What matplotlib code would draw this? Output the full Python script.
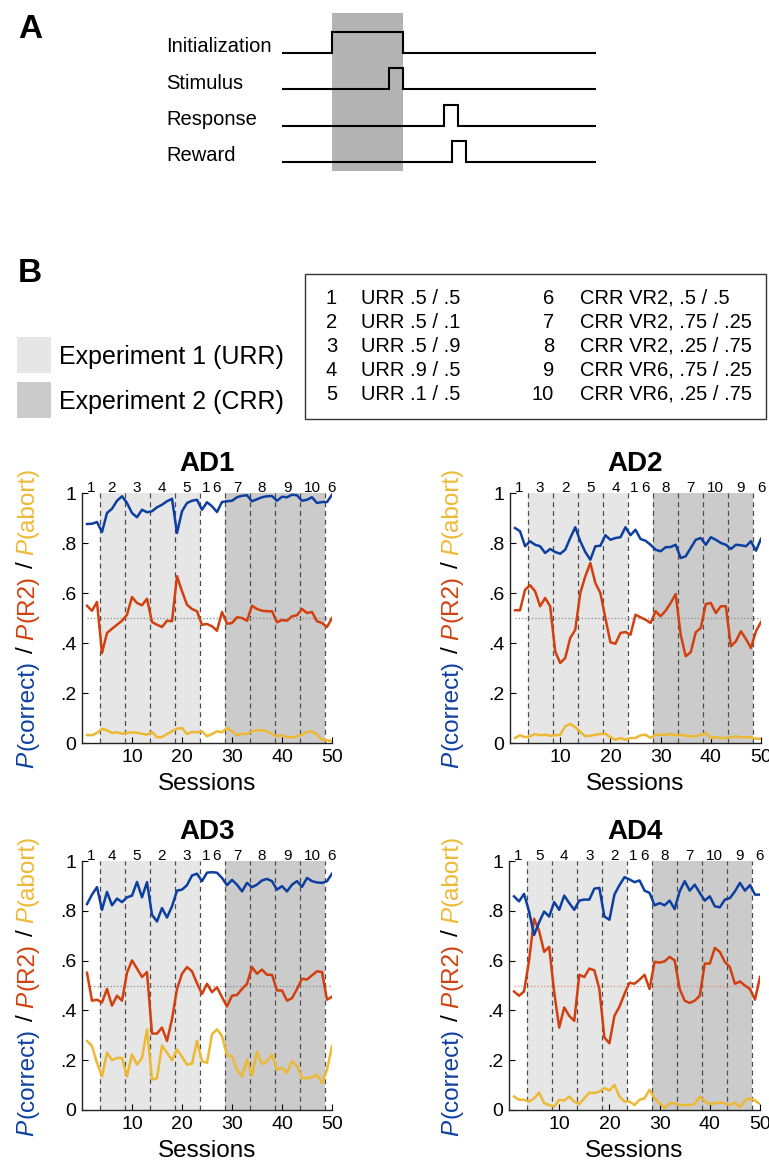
"""
A: trial timing schematic
B: P(correct) / P(R2) / P(abort) across 50 sessions for AD1-AD4
"""
import numpy as np
import matplotlib.pyplot as plt
from matplotlib.patches import Rectangle
from matplotlib.transforms import IdentityTransform

plt.rcParams['font.family'] = ['Liberation Sans', 'DejaVu Sans']

# ==========================================
# 參數
# ==========================================
W, H = 769, 1165
BLUE, RED, YELLOW = '#0d3fa0', '#d2400f', '#edb935'
LIGHT, DARK = '#e6e6e6', '#cbcbcb'

# timing diagram, arbitrary time units
T_END     = 100
EVENTS    = ['Initialization', 'Stimulus', 'Response', 'Reward']
EVENT_ON  = [16, 34, 51.5, 54]
EVENT_OFF = [38.5, 38.5, 56, 58.5]

COND_ID = ['1', '2', '3', '4', '5', '6', '7', '8', '9', '10']
COND_NAME = ['URR .5 / .5', 'URR .5 / .1', 'URR .5 / .9', 'URR .9 / .5', 'URR .1 / .5',
             'CRR VR2, .5 / .5', 'CRR VR2, .75 / .25', 'CRR VR2, .25 / .75',
             'CRR VR6, .75 / .25', 'CRR VR6, .25 / .75']

SESSIONS    = np.arange(1, 51)
BLOCK_EDGES = [3.5, 8.5, 13.5, 18.5, 23.5, 28.5, 33.5, 38.5, 43.5, 48.5]
EXP1_SPAN   = (3.5, 23.5)
EXP2_SPAN   = (28.5, 48.5)
BLOCK_X     = [1.8, 6, 11, 16, 21, 24.8, 26.9, 31, 36, 41, 46, 50]

ORDER_AD1 = ['1', '2', '3', '4', '5', '1', '6', '7', '8', '9', '10', '6']
ORDER_AD2 = ['1', '3', '2', '5', '4', '1', '6', '8', '7', '10', '9', '6']
ORDER_AD3 = ['1', '4', '5', '2', '3', '1', '6', '7', '8', '9', '10', '6']
ORDER_AD4 = ['1', '5', '4', '3', '2', '1', '6', '8', '7', '10', '9', '6']

AD1_CORRECT = [0.876, 0.877, 0.884, 0.844, 0.92, 0.937, 0.969, 0.987, 0.96, 0.92,
               0.903, 0.933, 0.923, 0.927, 0.943, 0.953, 0.967, 0.977, 0.84, 0.927,
               0.96, 0.969, 0.973, 0.933, 0.963, 0.947, 0.924, 0.964, 0.967, 0.969,
               0.983, 0.989, 0.991, 0.967, 0.975, 0.983, 0.987, 0.988, 0.969, 0.985,
               0.983, 0.993, 0.991, 0.969, 0.973, 0.983, 0.96, 0.964, 0.964, 0.993]
AD1_R2 = [0.549, 0.529, 0.564, 0.36, 0.44, 0.457, 0.473, 0.489, 0.513, 0.584,
          0.56, 0.551, 0.577, 0.484, 0.473, 0.464, 0.489, 0.487, 0.667, 0.607,
          0.553, 0.536, 0.527, 0.473, 0.476, 0.467, 0.449, 0.524, 0.477, 0.48,
          0.503, 0.5, 0.489, 0.549, 0.536, 0.529, 0.527, 0.527, 0.483, 0.492,
          0.489, 0.507, 0.511, 0.536, 0.52, 0.524, 0.487, 0.48, 0.464, 0.5]
AD1_ABORT = [0.032, 0.031, 0.04, 0.057, 0.051, 0.04, 0.043, 0.037, 0.04, 0.043,
             0.041, 0.037, 0.033, 0.044, 0.023, 0.024, 0.036, 0.047, 0.057, 0.06,
             0.036, 0.044, 0.043, 0.047, 0.027, 0.036, 0.047, 0.043, 0.06, 0.047,
             0.031, 0.037, 0.036, 0.047, 0.051, 0.051, 0.047, 0.036, 0.027, 0.031,
             0.023, 0.023, 0.027, 0.033, 0.044, 0.047, 0.033, 0.013, 0.011, 0.007]

AD2_CORRECT = [0.86, 0.847, 0.787, 0.807, 0.793, 0.787, 0.76, 0.776, 0.764, 0.757,
               0.773, 0.82, 0.863, 0.807, 0.764, 0.733, 0.787, 0.789, 0.831, 0.813,
               0.82, 0.823, 0.863, 0.831, 0.853, 0.816, 0.809, 0.793, 0.773, 0.767,
               0.783, 0.784, 0.793, 0.74, 0.747, 0.78, 0.813, 0.82, 0.793, 0.823,
               0.813, 0.8, 0.793, 0.776, 0.793, 0.791, 0.787, 0.807, 0.769, 0.817]
AD2_R2 = [0.531, 0.531, 0.613, 0.631, 0.607, 0.547, 0.58, 0.547, 0.367, 0.32,
          0.34, 0.42, 0.453, 0.6, 0.667, 0.72, 0.64, 0.6, 0.5, 0.403,
          0.397, 0.44, 0.444, 0.433, 0.513, 0.503, 0.493, 0.48, 0.527, 0.507,
          0.529, 0.56, 0.596, 0.433, 0.347, 0.363, 0.443, 0.46, 0.556, 0.56,
          0.52, 0.547, 0.547, 0.387, 0.407, 0.447, 0.416, 0.38, 0.447, 0.484]
AD2_ABORT = [0.02, 0.031, 0.023, 0.027, 0.036, 0.031, 0.033, 0.029, 0.031, 0.033,
             0.067, 0.076, 0.063, 0.044, 0.027, 0.029, 0.033, 0.036, 0.037, 0.023,
             0.013, 0.02, 0.013, 0.02, 0.02, 0.031, 0.033, 0.02, 0.033, 0.033,
             0.033, 0.036, 0.031, 0.033, 0.029, 0.027, 0.027, 0.033, 0.04, 0.02,
             0.023, 0.02, 0.02, 0.023, 0.027, 0.023, 0.023, 0.023, 0.017, 0.017]

AD3_CORRECT = [0.827, 0.865, 0.895, 0.804, 0.876, 0.822, 0.849, 0.835, 0.854, 0.861,
               0.916, 0.854, 0.915, 0.784, 0.757, 0.811, 0.773, 0.818, 0.881, 0.885,
               0.903, 0.942, 0.949, 0.919, 0.953, 0.955, 0.953, 0.932, 0.903, 0.924,
               0.905, 0.878, 0.912, 0.895, 0.905, 0.922, 0.928, 0.919, 0.885, 0.899,
               0.878, 0.905, 0.919, 0.896, 0.932, 0.919, 0.914, 0.912, 0.919, 0.949]
AD3_R2 = [0.551, 0.439, 0.443, 0.432, 0.486, 0.419, 0.459, 0.439, 0.551, 0.601,
          0.568, 0.534, 0.554, 0.307, 0.307, 0.331, 0.277, 0.365, 0.486, 0.547,
          0.574, 0.557, 0.509, 0.466, 0.507, 0.473, 0.493, 0.453, 0.416, 0.459,
          0.462, 0.486, 0.507, 0.574, 0.547, 0.564, 0.543, 0.543, 0.48, 0.48,
          0.439, 0.449, 0.486, 0.527, 0.524, 0.541, 0.557, 0.554, 0.443, 0.455]
AD3_ABORT = [0.277, 0.257, 0.189, 0.135, 0.23, 0.2, 0.209, 0.209, 0.135, 0.223,
             0.182, 0.209, 0.324, 0.122, 0.128, 0.259, 0.23, 0.2, 0.243, 0.214,
             0.182, 0.186, 0.277, 0.196, 0.189, 0.304, 0.324, 0.297, 0.219, 0.216,
             0.162, 0.135, 0.203, 0.138, 0.234, 0.185, 0.196, 0.223, 0.162, 0.169,
             0.149, 0.196, 0.176, 0.128, 0.128, 0.131, 0.142, 0.108, 0.162, 0.257]

AD4_CORRECT = [0.858, 0.838, 0.868, 0.797, 0.703, 0.754, 0.797, 0.777, 0.835, 0.804,
               0.861, 0.831, 0.804, 0.841, 0.845, 0.845, 0.889, 0.892, 0.777, 0.764,
               0.865, 0.903, 0.935, 0.926, 0.915, 0.922, 0.881, 0.872, 0.822, 0.831,
               0.822, 0.841, 0.807, 0.878, 0.919, 0.881, 0.905, 0.872, 0.841, 0.858,
               0.818, 0.814, 0.845, 0.851, 0.878, 0.912, 0.881, 0.903, 0.865, 0.865]
AD4_R2 = [0.476, 0.459, 0.476, 0.601, 0.768, 0.719, 0.635, 0.655, 0.473, 0.331,
          0.412, 0.378, 0.358, 0.543, 0.534, 0.568, 0.561, 0.486, 0.291, 0.268,
          0.378, 0.415, 0.466, 0.511, 0.507, 0.523, 0.543, 0.486, 0.595, 0.592,
          0.597, 0.615, 0.601, 0.486, 0.439, 0.43, 0.439, 0.459, 0.588, 0.588,
          0.651, 0.635, 0.595, 0.574, 0.507, 0.516, 0.5, 0.486, 0.443, 0.534]
AD4_ABORT = [0.054, 0.041, 0.041, 0.034, 0.047, 0.07, 0.027, 0.02, 0.014, 0.041,
             0.038, 0.054, 0.034, 0.024, 0.047, 0.07, 0.068, 0.074, 0.088, 0.078,
             0.101, 0.054, 0.034, 0.034, 0.02, 0.041, 0.047, 0.081, 0.047, 0.027,
             0.009, 0.027, 0.027, 0.02, 0.02, 0.02, 0.024, 0.054, 0.034, 0.024,
             0.027, 0.03, 0.027, 0.02, 0.03, 0.011, 0.038, 0.047, 0.038, 0.024]

# multi-colour y label pieces: (text, colour, style, gap after in px)
YLABEL_PARTS = [('P', BLUE, 'italic', 1), ('(correct)', BLUE, 'normal', 7),
                ('/', 'black', 'normal', 7), ('P', RED, 'italic', 1),
                ('(R2)', RED, 'normal', 7), ('/', 'black', 'normal', 7),
                ('P', YELLOW, 'italic', 1), ('(abort)', YELLOW, 'normal', 0)]


# ==========================================
# 工具函數
# ==========================================
def px_axes(fig, left, top, right, bottom, **kw):
    """axes from pixel box (origin top-left)"""
    return fig.add_axes([left / W, 1 - bottom / H, (right - left) / W, (bottom - top) / H], **kw)


def colored_ylabel(fig, x_base, y_center, size=17.5):
    rend = fig.canvas.get_renderer()
    texts, lens = [], []
    for s, col, sty, _ in YLABEL_PARTS:
        t = fig.text(0, 0, s, color=col, style=sty, fontsize=size, rotation=90,
                     rotation_mode='anchor', ha='left', va='baseline',
                     transform=IdentityTransform())
        texts.append(t)
        lens.append(t.get_window_extent(rend).height)
    gaps = [p[3] for p in YLABEL_PARTS]
    total = sum(lens) + sum(gaps[:-1])
    y = (H - y_center) - total / 2
    for t, ln, g in zip(texts, lens, gaps):
        t.set_position((x_base, y))
        y += ln + g


# ==========================================
# 繪圖
# ==========================================
def plot_task(fig):
    unit = 36.3                      # px between rows
    ax = px_axes(fig, 282, 5, 596, 185)
    ax.set_xlim(0, T_END)
    ax.set_ylim((185 - 53) / unit, (5 - 53) / unit)
    ax.axis('off')
    pulse = 21 / unit
    ax.add_patch(Rectangle((EVENT_ON[0], (13 - 53) / unit), EVENT_OFF[0] - EVENT_ON[0],
                           (171 - 13) / unit, color='#b3b3b3', lw=0, zorder=0))
    for i, (name, on, off) in enumerate(zip(EVENTS, EVENT_ON, EVENT_OFF)):
        ax.plot([0, on, on, off, off, T_END], [i, i, i - pulse, i - pulse, i, i],
                color='black', lw=1.5, solid_joinstyle='miter', zorder=2)
        ax.text((166 - 282) / 3.14, i - 0.17, name, ha='left', va='center',
                fontsize=14.5, clip_on=False)


def plot_legend(fig):
    ov = fig.add_axes([0, 0, 1, 1], zorder=-1)
    ov.set_xlim(0, W); ov.set_ylim(H, 0); ov.axis('off')

    ov.text(30, 30, 'A', fontsize=24, fontweight='bold', ha='center', va='center')
    ov.text(30, 274, 'B', fontsize=24, fontweight='bold', ha='center', va='center')

    ov.add_patch(Rectangle((17, 337), 34, 36, color=LIGHT, lw=0))
    ov.add_patch(Rectangle((17, 382), 34, 36, color=DARK, lw=0))
    ov.text(59, 357, 'Experiment 1 (URR)', fontsize=18, va='center')
    ov.text(59, 402, 'Experiment 2 (CRR)', fontsize=18, va='center')

    ov.add_patch(Rectangle((305, 274), 461, 145, fill=False, ec='#333333', lw=1.0))
    for k, (cid, name) in enumerate(zip(COND_ID, COND_NAME)):
        col, row = divmod(k, 5)
        y = 298 + 24 * row
        ov.text([337, 554][col], y, cid, fontsize=14.5, ha='right', va='center')
        ov.text([361, 580][col], y, name, fontsize=14.5, ha='left', va='center')


def plot_animal(fig, box, name, correct, r2, abort, order, half_color):
    ax = px_axes(fig, *box)
    ax.axvspan(*EXP1_SPAN, color=LIGHT, lw=0, zorder=0)
    ax.axvspan(*EXP2_SPAN, color=DARK, lw=0, zorder=0)
    for b in BLOCK_EDGES:
        ax.axvline(b, color='#4d4d4d', lw=0.9, ls=(0, (4, 3)), zorder=1)
    ax.hlines(0.5, 1, 50, colors=half_color, linestyles=':', lw=0.9, zorder=1)

    ax.plot(SESSIONS, abort,   color=YELLOW, lw=1.8, zorder=3)
    ax.plot(SESSIONS, r2,      color=RED,    lw=1.8, zorder=3)
    ax.plot(SESSIONS, correct, color=BLUE,   lw=1.8, zorder=4)

    ax.set_xlim(0, 50)
    ax.set_ylim(0, 1)
    ax.set_xticks([10, 20, 30, 40, 50])
    ax.set_yticks([0, 0.2, 0.4, 0.6, 0.8, 1])
    ax.set_yticklabels(['0', '.2', '.4', '.6', '.8', '1'])
    ax.tick_params(direction='in', length=4, width=0.8, labelsize=14, pad=4)
    ax.spines[['top', 'right']].set_visible(False)
    for sp in ('left', 'bottom'):
        ax.spines[sp].set_linewidth(1.0)
        ax.spines[sp].set_color('#222222')
    ax.set_facecolor('none')

    for x, lab in zip(BLOCK_X, order):
        ax.text(x, 1.006, lab, ha='center', va='baseline', fontsize=11, clip_on=False)

    ax.set_title(name, fontsize=20, fontweight='bold', pad=16)
    ax.set_xlabel('Sessions', fontsize=17.5)
    ax.xaxis.set_label_coords(0.5, -0.12)
    return ax


# ==========================================
# 主程式
# ==========================================
def main():
    fig = plt.figure(figsize=(W / 100, H / 100), dpi=100)
    plot_legend(fig)
    plot_task(fig)

    panels = [
        ((82, 493, 332, 743),  'AD1', AD1_CORRECT, AD1_R2, AD1_ABORT, ORDER_AD1, '#8a8a8a'),
        ((510, 493, 761, 743), 'AD2', AD2_CORRECT, AD2_R2, AD2_ABORT, ORDER_AD2, '#8a8a8a'),
        ((82, 861, 332, 1110), 'AD3', AD3_CORRECT, AD3_R2, AD3_ABORT, ORDER_AD3, '#8a8a8a'),
        ((509, 861, 760, 1110), 'AD4', AD4_CORRECT, AD4_R2, AD4_ABORT, ORDER_AD4, '#e8896e'),
    ]
    for p in panels:
        plot_animal(fig, *p)

    colored_ylabel(fig, 33, 617)
    colored_ylabel(fig, 458, 617)
    colored_ylabel(fig, 33, 985)
    colored_ylabel(fig, 458, 985)

    fig.savefig('out.png', dpi=100)
    plt.close(fig)


if __name__ == '__main__':
    main()
